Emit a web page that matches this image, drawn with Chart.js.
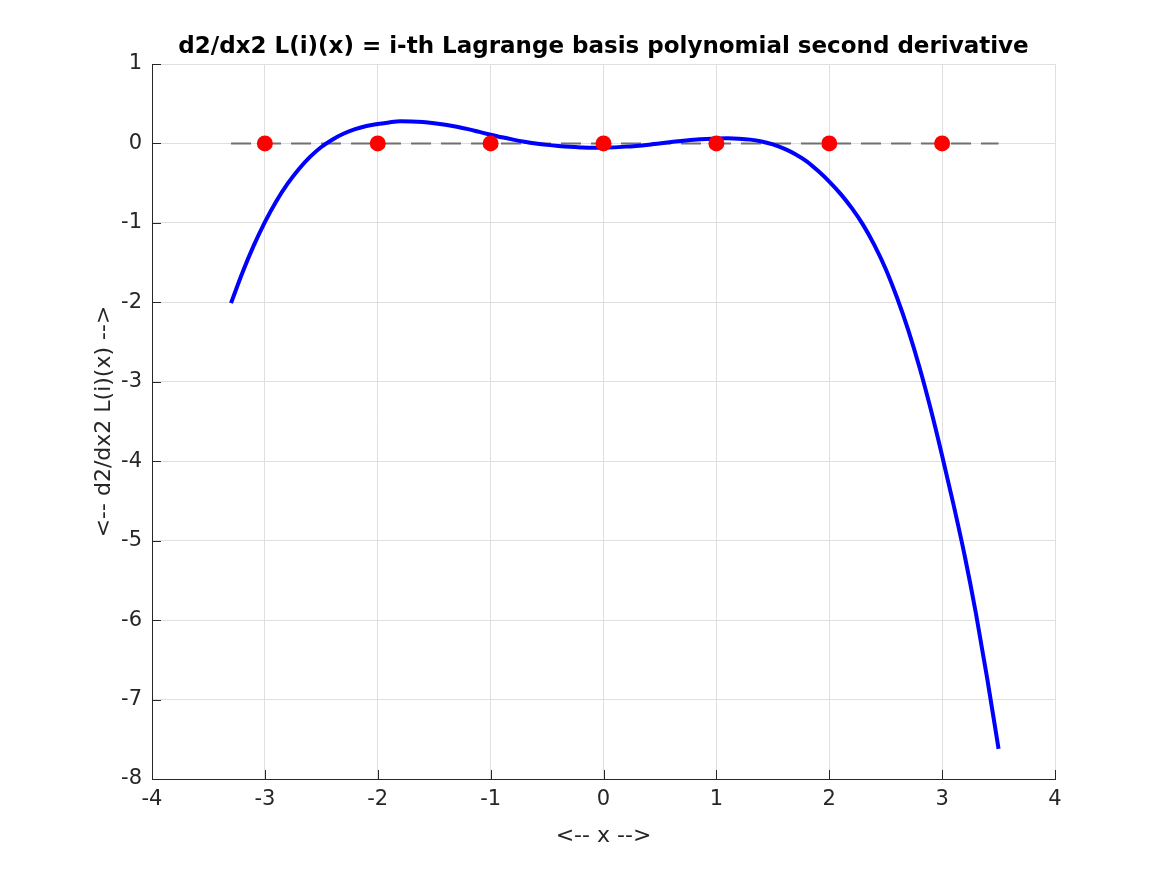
<!DOCTYPE html>
<html>
<head>
<meta charset="utf-8">
<script src="https://cdn.jsdelivr.net/npm/chart.js@4/dist/chart.umd.min.js"></script>
<style>
  body { margin: 0; background: #fff; }
  canvas { display: block; }
</style>
</head>
<body>
<canvas id="chart" width="1167" height="875"></canvas>
<script>
// second derivative curve
const curveX = [-3.3, -3.2, -3.1, -3.0, -2.9, -2.8, -2.7, -2.6, -2.5, -2.4, -2.3, -2.2, -2.1, -2.0,
  -1.9, -1.8, -1.7, -1.6, -1.5, -1.4, -1.3, -1.2, -1.1, -1.0, -0.9, -0.8, -0.7, -0.6, -0.5,
  -0.4, -0.3, -0.2, -0.1, 0.0, 0.2, 0.4, 0.6, 0.8, 1.0, 1.1, 1.2, 1.3, 1.4, 1.5, 1.6, 1.7,
  1.8, 1.9, 2.0, 2.1, 2.2, 2.3, 2.4, 2.5, 2.6, 2.7, 2.8, 2.9, 3.0, 3.1, 3.2, 3.3, 3.4, 3.5];
const curveY = [-2.01, -1.63, -1.29, -0.99, -0.73, -0.51, -0.325, -0.17, -0.045, 0.05, 0.125, 0.18, 0.22, 0.245,
  0.265, 0.278, 0.277, 0.27, 0.255, 0.235, 0.21, 0.18, 0.145, 0.11, 0.077, 0.048, 0.022, 0.0, -0.018,
  -0.032, -0.043, -0.05, -0.054, -0.053, -0.04, -0.015, 0.018, 0.047, 0.063, 0.064, 0.06, 0.048, 0.024, -0.012, -0.065, -0.135,
  -0.225, -0.345, -0.48, -0.635, -0.815, -1.025, -1.28, -1.58, -1.94, -2.35, -2.82, -3.35, -3.93, -4.54, -5.19, -5.92, -6.74, -7.62];

// interpolation nodes
const nodeX = [-3, -2, -1, 0, 1, 2, 3];
const nodeY = [0, 0, 0, 0, 0, 0, 0];

// zero reference line
const zeroX = [-3.3, 3.5];
const zeroY = [0, 0];

const xTicks = [-4, -3, -2, -1, 0, 1, 2, 3, 4];
const yTicks = [1, 0, -1, -2, -3, -4, -5, -6, -7, -8];

function pts(xs, ys) {
    return xs.map((x, i) => ({ x: x, y: ys[i] }));
}

const axisColor = '#262626';
const font = 'DejaVu Sans';

// MATLAB-style ticks pointing into the plot
const innerTicks = {
    id: 'innerTicks',
    afterDraw(chart) {
        const ctx = chart.ctx;
        const a = chart.chartArea;
        const xs = chart.scales.x, ys = chart.scales.y;
        ctx.save();
        ctx.strokeStyle = axisColor;
        ctx.lineWidth = 1;
        ctx.beginPath();
        xTicks.forEach(v => {
            const px = Math.round(xs.getPixelForValue(v)) + 0.5;
            ctx.moveTo(px, a.bottom);
            ctx.lineTo(px, a.bottom - 9);
        });
        yTicks.forEach(v => {
            const py = Math.round(ys.getPixelForValue(v)) + 0.5;
            ctx.moveTo(a.left, py);
            ctx.lineTo(a.left + 9, py);
        });
        ctx.stroke();
        ctx.restore();
    }
};

const ctx = document.getElementById('chart').getContext('2d');
new Chart(ctx, {
    type: 'scatter',
    data: {
        datasets: [{
            data: pts(nodeX, nodeY),
            showLine: false,
            pointRadius: 8,
            pointBackgroundColor: '#ff0000',
            pointBorderColor: '#ff0000',
            pointBorderWidth: 0
        }, {
            data: pts(curveX, curveY),
            showLine: true,
            borderColor: '#0000ff',
            borderWidth: 4,
            pointRadius: 0,
            cubicInterpolationMode: 'monotone'
        }, {
            data: pts(zeroX, zeroY),
            showLine: true,
            borderColor: '#707070',
            borderWidth: 2,
            borderDash: [20, 10],
            pointRadius: 0
        }]
    },
    options: {
        responsive: false,
        animation: false,
        layout: {
            padding: { left: 88, right: 112, top: 0, bottom: 26 }
        },
        plugins: {
            legend: { display: false },
            tooltip: { enabled: false },
            title: {
                display: true,
                fullSize: false,
                text: 'd2/dx2 L(i)(x) = i-th Lagrange basis polynomial second derivative',
                color: '#000',
                font: { family: font, size: 23, weight: 'bold' },
                padding: { top: 33, bottom: 3.4 }
            }
        },
        scales: {
            x: {
                type: 'linear',
                min: -4,
                max: 4,
                afterBuildTicks(scale) {
                    scale.ticks = xTicks.map(v => ({ value: v }));
                },
                afterFit(scale) { scale.height = 70; },
                grid: { color: '#dfdfdf', drawTicks: false },
                border: { color: axisColor, width: 1 },
                ticks: {
                    color: axisColor,
                    font: { family: font, size: 21 },
                    padding: 8
                },
                title: {
                    display: true,
                    text: '<-- x -->',
                    color: axisColor,
                    font: { family: font, size: 22 },
                    padding: { top: 4, bottom: 0 }
                }
            },
            y: {
                type: 'linear',
                min: -8,
                max: 1,
                afterBuildTicks(scale) {
                    scale.ticks = yTicks.map(v => ({ value: v }));
                },
                afterFit(scale) { scale.width = 64; },
                grid: { color: '#dfdfdf', drawTicks: false },
                border: { color: axisColor, width: 1 },
                ticks: {
                    color: axisColor,
                    font: { family: font, size: 21 },
                    padding: 10
                },
                title: {
                    display: true,
                    text: '<-- d2/dx2 L(i)(x) -->',
                    color: axisColor,
                    font: { family: font, size: 22 },
                    padding: { top: 3, bottom: 0 }
                }
            }
        }
    },
    plugins: [innerTicks]
});
</script>
</body>
</html>
